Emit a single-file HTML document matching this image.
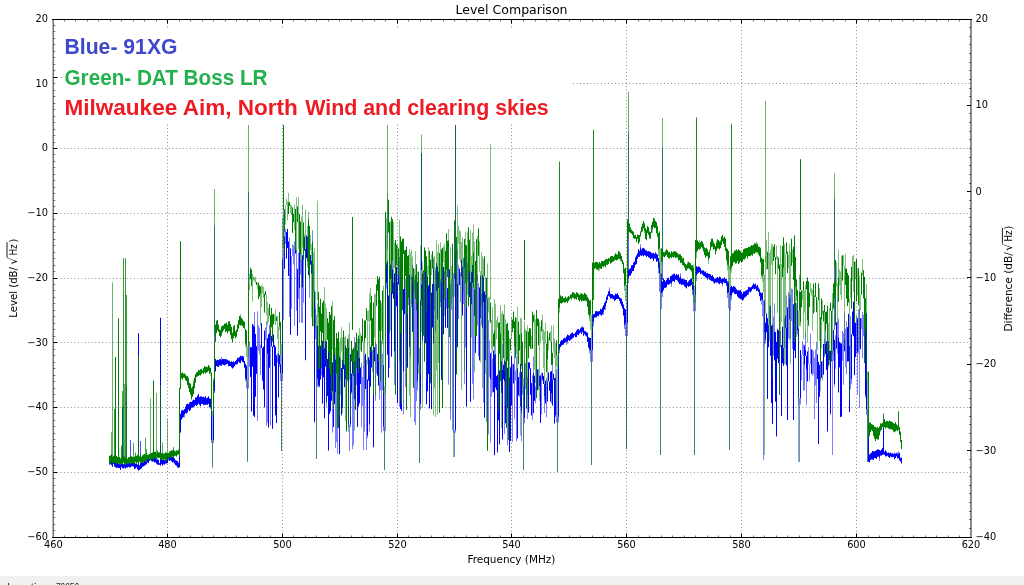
<!DOCTYPE html>
<html><head><meta charset="utf-8"><style>
html,body{margin:0;padding:0;background:#fff;width:1024px;height:585px;overflow:hidden}
svg{display:block}
.g{stroke:#000;stroke-width:1;stroke-dasharray:1 2.5;opacity:.45}
.t{font-family:"DejaVu Sans",sans-serif;font-size:9.8px;fill:#000}
.lb{font-family:"DejaVu Sans",sans-serif;font-size:9.8px;fill:#000}
.an{font-family:"Liberation Sans",sans-serif;font-weight:bold;font-size:22px}
</style></head><body>
<svg width="1024" height="585" viewBox="0 0 1024 585">
<rect width="1024" height="576" fill="#fff"/>
<rect y="576" width="1024" height="9" fill="#f0f0f0"/>
<text x="7" y="590.6" style="font-family:'Liberation Sans',sans-serif;font-size:11px;fill:#222">Location:</text><text x="55.9" y="590.6" style="font-family:'Liberation Sans',sans-serif;font-size:11px;fill:#222" textLength="23.3" lengthAdjust="spacingAndGlyphs">79656</text>
<path d="M138.5 333.2V465.0M160.5 317.8V462.0M122.5 406.7V466.0M421.5 153.4V270.0M883.5 427.6V452.0" stroke="#0000ff" stroke-width="1" stroke-opacity="1.0"/>
<path d="M126.5 385.5V465.0M130.5 440.0V466.0M140.5 441.0V466.0" stroke="#0000ff" stroke-width="1" stroke-opacity="0.7"/>
<path d="M214.5 226.0V362.0M248.5 192.0V335.0M628.5 132.0V270.0M662.5 148.0V280.0M834.5 199.0V330.0" stroke="#0000ff" stroke-width="1" stroke-opacity="0.6"/>
<path d="M283.5 125.0V240.0M387.5 215.0V250.0" stroke="#0000ff" stroke-width="1" stroke-opacity="0.5"/>
<path d="M455.5 125.0V255.0" stroke="#0000ff" stroke-width="1" stroke-opacity="0.8"/>
<path d="M109.5 461.9V464.5M110.5 460.3V464.2M111.5 459.9V465.1M112.5 461.6V466.8M113.5 461.0V463.9M114.5 461.0V466.6M115.5 462.3V467.2M116.5 462.1V468.1M117.5 461.7V467.5M118.5 463.7V468.1M119.5 460.3V468.0M120.5 464.2V470.0M121.5 463.6V467.0M122.5 464.1V468.2M123.5 464.2V468.7M124.5 463.4V467.7M125.5 461.6V468.5M126.5 463.6V467.6M127.5 463.7V467.5M128.5 463.8V466.8M129.5 462.5V467.4M130.5 462.9V467.5M131.5 462.9V466.2M132.5 462.3V466.2M133.5 462.2V466.8M134.5 463.5V469.1M135.5 463.4V468.4M136.5 463.8V467.3M137.5 464.5V469.2M138.5 464.8V470.5M139.5 465.1V470.0M140.5 463.6V469.1M141.5 461.7V468.4M142.5 461.8V466.7M143.5 462.5V466.4M144.5 460.7V465.8M145.5 459.5V464.9M146.5 459.2V464.3M147.5 457.5V462.6M148.5 457.8V463.0M149.5 457.4V461.0M150.5 456.7V460.1M151.5 455.5V461.2M152.5 456.1V461.6M153.5 456.9V461.3M154.5 456.1V462.5M155.5 458.1V462.3M156.5 458.4V463.6M157.5 459.7V464.7M158.5 459.9V464.8M159.5 463.2V464.8M160.5 459.9V465.7M161.5 459.1V464.2M162.5 459.7V465.6M163.5 459.5V464.3M164.5 459.7V464.6M165.5 458.7V463.5M166.5 458.0V463.6M167.5 456.9V463.0M168.5 458.5V460.1M169.5 455.5V460.9M170.5 456.9V460.4M171.5 456.8V461.3M172.5 456.5V462.5M173.5 457.2V462.2M174.5 458.4V463.7M175.5 460.2V465.1M176.5 460.7V465.7M177.5 461.1V467.4M178.5 462.7V467.8M179.5 416.7V467.3M180.5 413.7V432.6M181.5 410.6V419.7M182.5 409.8V418.0M183.5 410.4V417.0M184.5 409.1V414.6M185.5 406.6V413.2M186.5 404.3V413.6M187.5 403.7V412.3M188.5 404.2V409.7M189.5 402.5V411.0M190.5 401.8V410.2M191.5 401.9V407.8M192.5 400.7V407.7M193.5 399.7V406.9M194.5 399.9V406.5M195.5 397.6V404.9M196.5 397.3V406.0M197.5 395.7V404.7M198.5 394.1V403.5M199.5 397.0V404.8M200.5 396.4V406.2M201.5 396.4V403.9M202.5 397.1V403.9M203.5 396.8V405.1M204.5 397.4V404.7M205.5 396.2V405.1M206.5 398.2V404.5M207.5 397.7V404.8M208.5 396.3V403.9M209.5 398.2V407.4M210.5 398.9V407.1M211.5 407.1V440.1M213.5 390.9V440.1M214.5 371.5V390.9M215.5 358.9V371.5M216.5 360.3V366.0M217.5 359.8V366.6M218.5 360.1V367.0M219.5 359.2V365.3M220.5 359.1V365.6M221.5 360.1V365.7M222.5 358.9V364.5M223.5 359.1V364.8M224.5 359.1V365.3M225.5 359.2V364.7M226.5 359.2V364.2M227.5 359.9V363.7M228.5 360.6V366.2M229.5 360.7V366.0M230.5 362.0V366.1M231.5 361.2V367.4M232.5 362.0V368.5M233.5 361.2V367.5M234.5 362.2V366.3M235.5 361.1V364.6M236.5 359.8V364.3M237.5 357.8V364.2M238.5 358.1V361.7M239.5 357.0V362.8M240.5 355.7V363.1M241.5 356.3V360.6M242.5 355.9V361.9M243.5 356.4V362.6M244.5 360.9V367.8M245.5 363.8V378.6M246.5 365.5V380.3M250.5 347.2V376.9M251.5 347.2V411.6M252.5 323.9V366.7M253.5 325.4V415.6M254.5 326.6V416.9M255.5 334.0V396.7M256.5 346.2V373.9M261.5 323.4V348.1M262.5 348.1V380.6M263.5 346.6V389.6M264.5 330.5V407.4M267.5 338.3V353.8M268.5 334.3V427.5M269.5 333.1V367.7M271.5 335.9V346.5M272.5 346.5V428.9M273.5 334.5V347.1M274.5 345.0V366.3M275.5 346.8V415.4M276.5 355.3V423.1M278.5 353.6V397.4M279.5 355.0V364.3M280.5 364.3V373.1M282.5 259.3V373.1M284.5 236.7V268.8M286.5 231.9V258.7M287.5 229.0V248.1M288.5 241.5V275.9M290.5 248.4V334.8M295.5 243.5V253.6M297.5 268.7V335.6M299.5 246.5V288.2M302.5 255.2V287.4M304.5 236.9V250.7M305.5 249.4V360.2M306.5 235.5V258.0M307.5 236.9V261.4M308.5 248.8V275.0M310.5 255.0V264.7M311.5 260.7V273.7M312.5 241.7V321.2M314.5 291.3V421.7M317.5 325.7V378.7M318.5 345.9V385.1M319.5 352.1V386.7M320.5 345.7V379.5M322.5 340.9V403.6M323.5 342.1V377.4M324.5 348.0V418.3M325.5 340.9V366.6M326.5 341.8V402.4M327.5 359.0V396.1M328.5 340.7V450.5M329.5 343.5V413.9M330.5 358.2V411.4M331.5 348.3V400.7M332.5 362.4V391.5M333.5 343.9V427.1M334.5 347.9V404.1M335.5 359.6V392.4M339.5 356.7V454.3M341.5 368.0V415.3M342.5 360.0V407.9M343.5 346.7V369.1M344.5 364.8V387.1M345.5 346.0V379.2M346.5 354.9V418.3M347.5 362.9V379.5M348.5 347.6V424.5M350.5 354.3V424.5M351.5 373.6V392.4M352.5 356.4V373.6M353.5 350.8V375.9M354.5 361.4V399.2M355.5 357.1V409.8M357.5 350.9V426.8M358.5 354.4V406.4M359.5 357.8V403.4M360.5 367.5V384.1M365.5 354.0V389.0M367.5 379.5V435.6M368.5 357.2V380.6M369.5 359.8V424.5M370.5 346.7V386.5M371.5 346.4V367.5M373.5 347.8V447.3M374.5 347.1V361.4M377.5 354.0V375.7M378.5 354.3V385.6M383.5 365.1V426.7M386.5 263.1V283.0M387.5 261.0V354.8M388.5 295.5V377.5M390.5 264.7V278.8M391.5 258.5V356.7M392.5 269.3V293.7M393.5 282.8V298.6M394.5 273.4V351.4M395.5 286.1V330.2M396.5 266.9V306.3M397.5 282.8V403.0M398.5 270.6V284.5M400.5 283.7V409.0M401.5 272.0V410.8M403.5 289.1V371.5M404.5 280.3V314.2M407.5 288.4V367.7M409.5 274.6V346.8M412.5 276.7V331.8M416.5 273.9V295.4M417.5 282.1V380.0M420.5 300.5V403.9M421.5 284.4V300.5M422.5 273.3V340.7M424.5 296.7V321.8M425.5 270.5V343.3M426.5 273.1V404.2M427.5 276.3V391.3M428.5 285.5V374.0M429.5 274.3V408.4M430.5 271.9V369.4M431.5 292.6V409.0M432.5 284.0V327.5M433.5 268.3V343.4M436.5 263.2V290.9M437.5 266.7V319.5M438.5 271.8V287.9M441.5 274.1V379.8M442.5 270.5V405.0M443.5 267.0V334.2M445.5 273.1V327.6M447.5 288.2V327.9M448.5 264.9V303.6M449.5 269.3V317.5M455.5 254.3V430.0M456.5 256.2V324.4M457.5 283.7V347.3M459.5 268.6V285.1M461.5 259.8V276.7M462.5 266.9V315.5M464.5 251.5V267.6M466.5 262.9V406.4M468.5 263.1V306.3M469.5 268.4V297.0M470.5 282.1V401.9M471.5 272.2V304.2M472.5 264.9V282.7M474.5 289.4V315.7M475.5 261.1V352.8M479.5 287.4V360.4M480.5 275.8V318.1M482.5 275.0V328.1M483.5 277.4V302.5M484.5 291.4V417.7M485.5 294.9V360.1M487.5 302.7V336.2M490.5 353.3V379.7M493.5 350.6V392.2M494.5 354.8V455.2M495.5 354.0V387.6M496.5 376.1V390.1M497.5 374.8V452.4M498.5 372.1V420.3M499.5 370.4V444.4M501.5 361.3V392.9M502.5 369.7V439.4M503.5 364.7V379.1M504.5 360.5V381.5M505.5 361.5V423.3M506.5 358.7V416.7M507.5 367.7V407.9M508.5 354.9V423.4M509.5 377.6V452.0M510.5 367.4V440.9M511.5 356.1V405.6M513.5 364.3V383.5M517.5 368.1V438.5M518.5 377.1V395.5M520.5 363.9V406.7M521.5 371.9V411.6M524.5 363.8V418.0M526.5 371.6V404.7M528.5 362.4V412.6M529.5 362.3V368.6M530.5 368.2V394.8M531.5 383.0V415.4M533.5 373.1V413.1M534.5 375.8V400.9M536.5 370.8V389.9M537.5 369.4V390.4M539.5 376.1V385.9M540.5 375.4V422.9M542.5 373.1V380.3M543.5 375.9V384.0M544.5 384.0V396.0M545.5 380.6V403.6M547.5 381.4V401.6M548.5 372.4V381.4M549.5 381.4V390.9M550.5 371.6V401.6M551.5 371.1V393.5M552.5 379.6V405.6M553.5 373.7V379.8M554.5 378.1V423.6M555.5 377.6V415.3M558.5 345.6V416.8M559.5 344.0V349.7M560.5 341.3V347.1M561.5 340.2V345.8M562.5 339.9V344.8M563.5 338.6V344.7M564.5 337.7V342.9M565.5 338.2V342.2M566.5 336.5V341.6M567.5 334.6V341.7M568.5 335.3V340.2M569.5 335.4V340.9M570.5 334.0V340.2M571.5 333.2V339.2M572.5 332.3V338.4M573.5 333.9V337.6M574.5 333.7V335.5M575.5 332.3V337.2M576.5 330.5V337.1M577.5 329.3V334.8M578.5 328.9V335.2M579.5 330.2V333.5M580.5 328.4V332.4M581.5 327.1V334.1M582.5 327.7V332.1M583.5 327.4V335.8M584.5 330.9V334.3M585.5 331.4V335.6M586.5 332.2V336.7M587.5 332.7V341.9M588.5 337.1V347.5M589.5 337.8V349.9M590.5 338.0V350.2M592.5 312.5V350.2M593.5 314.3V322.2M594.5 313.8V317.7M595.5 311.2V317.3M596.5 311.0V317.3M597.5 311.5V315.8M598.5 311.4V316.3M599.5 311.0V314.4M600.5 308.8V314.8M601.5 309.3V315.7M602.5 307.3V314.4M603.5 305.3V312.5M604.5 303.0V309.6M605.5 301.2V306.6M606.5 296.8V303.2M607.5 294.5V299.8M608.5 291.4V296.1M609.5 290.4V296.8M610.5 293.8V298.6M611.5 294.0V298.3M612.5 294.1V298.8M613.5 295.4V299.1M614.5 295.2V301.0M615.5 293.6V300.0M616.5 294.1V299.1M617.5 293.2V299.0M618.5 295.2V298.9M619.5 297.1V300.9M620.5 298.1V303.6M621.5 298.7V306.1M622.5 301.6V308.6M623.5 304.5V315.6M624.5 308.2V325.3M625.5 309.3V323.5M627.5 269.6V323.5M628.5 269.5V278.3M629.5 269.0V275.8M630.5 268.2V275.5M631.5 265.5V273.5M632.5 265.1V271.2M633.5 262.6V271.1M634.5 261.5V267.7M635.5 257.4V264.9M636.5 255.4V263.9M637.5 253.3V259.0M638.5 249.1V256.8M639.5 250.8V256.8M640.5 247.3V255.3M641.5 249.6V256.0M642.5 248.1V255.3M643.5 247.9V256.2M644.5 248.8V255.3M645.5 250.3V255.6M646.5 250.4V257.0M647.5 251.4V256.0M648.5 251.2V257.4M649.5 251.4V257.8M650.5 251.8V259.2M651.5 253.0V258.3M652.5 253.3V258.7M653.5 252.8V261.0M654.5 254.0V258.5M655.5 252.4V258.8M656.5 253.8V261.9M657.5 254.6V261.2M658.5 257.9V267.8M659.5 262.3V273.6M661.5 273.6V293.0M662.5 281.4V292.3M663.5 278.3V290.3M664.5 280.0V287.9M665.5 281.4V288.2M666.5 279.8V287.2M667.5 278.3V284.5M668.5 277.7V284.8M669.5 279.8V284.4M670.5 276.3V283.2M671.5 275.6V283.8M672.5 274.7V281.4M673.5 273.8V281.1M674.5 273.6V281.9M675.5 275.3V279.6M676.5 273.9V280.0M677.5 275.1V280.7M678.5 274.3V282.5M679.5 277.4V284.1M680.5 276.3V283.9M681.5 278.8V285.1M682.5 278.5V284.5M683.5 279.2V284.7M684.5 279.4V286.4M685.5 279.8V287.3M686.5 280.1V288.4M687.5 282.4V285.9M688.5 281.3V287.0M689.5 280.0V286.0M690.5 279.1V286.2M691.5 278.6V284.7M692.5 282.1V290.0M693.5 283.8V295.2M695.5 266.1V295.2M696.5 266.1V275.6M697.5 267.0V273.8M698.5 266.5V272.9M699.5 266.8V272.2M700.5 268.0V274.2M701.5 270.4V273.4M702.5 270.6V274.7M703.5 270.3V275.7M704.5 271.7V276.1M705.5 271.4V277.2M706.5 273.2V278.0M707.5 272.8V279.5M708.5 273.9V277.6M709.5 273.9V279.6M710.5 274.4V280.1M711.5 276.0V281.0M712.5 275.1V281.0M713.5 277.0V282.4M714.5 278.7V283.6M715.5 278.7V282.5M716.5 277.8V282.7M717.5 277.0V282.3M718.5 277.9V283.4M719.5 276.6V284.2M720.5 277.2V282.7M721.5 279.1V283.5M722.5 278.4V284.3M723.5 278.5V282.2M724.5 277.4V283.1M725.5 279.2V283.1M726.5 279.0V285.7M727.5 281.4V293.3M728.5 281.7V292.6M730.5 287.1V295.5M731.5 285.8V295.7M732.5 287.0V292.9M733.5 286.2V292.1M734.5 286.5V293.8M735.5 287.5V294.2M736.5 289.1V294.0M737.5 290.5V296.5M738.5 290.2V297.7M739.5 290.3V298.3M740.5 290.1V299.1M741.5 291.7V299.2M742.5 293.8V300.6M743.5 291.6V299.7M744.5 291.5V297.9M745.5 290.8V296.7M746.5 290.1V296.4M747.5 289.6V294.9M748.5 286.9V293.7M749.5 287.1V291.5M750.5 287.5V292.5M751.5 286.7V290.9M752.5 285.2V289.1M753.5 283.4V288.6M754.5 284.4V289.5M755.5 283.8V288.8M756.5 286.0V291.0M757.5 284.9V290.7M758.5 287.4V291.9M759.5 289.3V296.2M760.5 292.2V300.9M761.5 293.2V299.6M762.5 292.5V300.3M764.5 300.3V332.0M765.5 322.5V339.8M766.5 313.4V332.3M767.5 318.1V398.9M768.5 325.2V347.1M770.5 306.0V355.6M771.5 325.6V403.1M772.5 324.7V423.9M774.5 331.3V360.4M775.5 332.1V401.7M776.5 341.9V436.4M777.5 329.1V358.6M778.5 330.4V363.1M781.5 345.0V416.1M782.5 326.7V363.3M783.5 348.2V365.8M785.5 315.5V328.2M786.5 328.2V365.6M787.5 307.4V420.0M789.5 298.5V319.3M793.5 304.2V420.0M794.5 308.5V350.5M795.5 302.9V358.0M797.5 302.0V330.5M798.5 328.7V398.1M800.5 350.1V398.1M804.5 345.3V364.7M805.5 350.0V356.0M806.5 356.0V369.6M807.5 351.5V381.4M811.5 349.5V373.8M817.5 354.3V378.9M818.5 362.0V444.0M819.5 364.9V396.7M821.5 361.6V377.9M823.5 344.0V374.8M825.5 344.0V354.1M826.5 341.3V369.9M827.5 345.0V431.5M828.5 341.3V365.1M829.5 351.0V360.1M830.5 350.7V413.6M831.5 341.1V350.7M833.5 330.1V350.7M834.5 340.0V384.3M836.5 322.3V348.6M838.5 337.3V392.5M839.5 341.9V367.4M840.5 343.0V417.0M841.5 343.7V416.6M844.5 338.7V351.3M847.5 327.1V361.6M848.5 314.0V361.3M849.5 345.8V412.1M851.5 334.3V379.1M852.5 311.6V334.3M853.5 301.7V336.3M854.5 313.4V375.1M855.5 322.7V357.1M857.5 318.2V351.9M860.5 318.2V349.2M865.5 327.9V395.7M866.5 313.4V409.7M868.5 409.7V461.9M869.5 454.5V462.3M870.5 453.4V460.0M871.5 452.7V459.3M872.5 451.1V459.5M873.5 451.3V459.9M874.5 451.2V458.0M875.5 451.0V458.1M876.5 450.0V458.9M877.5 449.5V456.8M878.5 449.4V456.6M879.5 450.0V457.7M880.5 450.7V455.6M881.5 449.7V455.6M882.5 447.8V454.7M883.5 450.6V454.6M884.5 451.7V454.9M885.5 450.3V456.2M886.5 451.7V456.5M887.5 453.1V455.7M888.5 452.4V456.9M889.5 453.1V458.0M890.5 452.6V456.5M891.5 453.5V457.2M892.5 453.2V457.2M893.5 454.2V456.8M894.5 452.7V459.3M895.5 453.7V458.1M896.5 452.9V456.4M897.5 454.1V458.4M898.5 453.9V458.2M899.5 452.7V460.3M900.5 457.7V461.5M901.5 457.6V463.4" stroke="#0000ff" stroke-width="1"/>
<path d="M109.5 458.8V461.9M141.5 460.2V461.7M143.5 459.4V462.5M157.5 458.4V459.7M184.5 414.6V417.6M212.5 440.1V468.0M221.5 357.0V360.1M247.5 380.3V462.0M248.5 344.7V380.3M249.5 341.5V363.9M254.5 312.0V326.6M257.5 331.2V421.0M257.5 311.4V331.2M258.5 325.6V350.6M259.5 327.7V354.5M260.5 344.8V375.3M265.5 327.5V340.2M266.5 337.9V425.8M266.5 321.3V337.9M267.5 353.8V422.4M269.5 324.6V333.1M270.5 330.7V417.3M270.5 417.3V425.3M277.5 353.3V362.5M280.5 344.2V364.6M281.5 373.1V451.0M283.5 234.9V315.8M285.5 228.7V244.0M289.5 237.4V272.7M289.5 272.7V316.9M291.5 256.0V308.9M292.5 244.1V256.0M293.5 245.4V264.5M294.5 241.3V312.2M294.5 312.2V325.9M296.5 249.8V310.7M298.5 252.8V298.9M299.5 288.2V322.8M300.5 246.9V274.7M301.5 259.5V322.7M301.5 322.7V322.7M302.5 287.4V322.9M303.5 248.4V302.7M305.5 360.2V360.2M309.5 261.0V297.8M312.5 230.3V241.7M313.5 263.6V291.3M315.5 308.5V325.7M316.5 325.7V459.0M321.5 357.9V375.4M332.5 391.5V432.5M335.5 392.4V448.1M336.5 357.4V426.0M336.5 426.0V442.2M337.5 350.2V453.6M338.5 343.2V383.5M340.5 358.2V379.6M348.5 339.8V347.6M349.5 424.5V451.0M352.5 369.5V449.2M353.5 375.9V445.4M354.5 337.0V361.4M356.5 367.3V385.0M359.5 339.0V357.8M361.5 362.6V388.0M361.5 388.0V427.2M362.5 376.9V406.0M363.5 366.0V450.0M364.5 355.9V431.7M366.5 359.5V450.0M367.5 435.6V438.1M369.5 424.5V431.7M372.5 349.7V372.2M375.5 342.6V400.8M376.5 344.3V373.6M379.5 382.4V399.5M380.5 346.5V390.2M381.5 340.4V432.7M382.5 353.6V388.0M384.5 426.7V470.0M385.5 253.3V426.7M387.5 354.8V354.8M389.5 260.9V368.1M391.5 241.8V258.5M392.5 251.4V269.3M394.5 351.4V385.1M399.5 284.5V407.0M399.5 257.1V290.3M400.5 409.0V409.0M402.5 268.3V301.5M403.5 371.5V414.1M405.5 278.4V386.8M406.5 270.8V299.6M408.5 288.2V305.1M410.5 307.6V356.4M411.5 275.6V307.6M412.5 264.7V276.7M413.5 274.5V314.4M414.5 280.0V318.7M414.5 318.7V422.0M415.5 294.3V425.0M416.5 295.4V401.0M417.5 380.0V390.6M418.5 288.7V347.8M419.5 347.8V463.0M421.5 265.7V284.4M423.5 280.6V299.1M424.5 264.5V296.7M429.5 408.4V408.4M431.5 409.0V409.0M433.5 259.1V268.3M434.5 284.7V310.5M435.5 270.1V331.7M439.5 274.9V391.0M439.5 391.0V391.0M440.5 279.3V302.5M444.5 271.5V300.0M446.5 270.6V308.3M448.5 303.6V384.7M450.5 284.1V419.7M451.5 279.3V309.8M452.5 271.3V429.1M453.5 272.8V430.0M454.5 430.0V457.0M457.5 249.7V283.7M458.5 264.6V319.2M460.5 272.3V302.3M463.5 258.5V304.1M464.5 267.6V384.3M465.5 267.6V347.5M465.5 244.9V278.1M467.5 262.7V280.8M472.5 282.7V383.7M473.5 270.9V399.4M473.5 399.4V399.4M476.5 258.9V300.3M477.5 274.5V325.6M478.5 283.0V356.2M481.5 293.6V325.5M483.5 302.5V402.6M486.5 293.0V318.0M486.5 318.0V421.9M487.5 336.2V444.7M488.5 320.2V434.5M489.5 340.4V377.0M490.5 379.7V442.5M491.5 351.6V396.8M492.5 358.8V392.6M494.5 342.1V354.8M500.5 365.5V381.5M502.5 343.7V369.7M504.5 381.5V434.0M507.5 407.9V445.4M508.5 349.8V354.9M512.5 363.5V376.0M512.5 376.0V441.9M514.5 364.3V418.7M514.5 346.2V364.3M515.5 370.5V380.5M516.5 356.6V384.7M516.5 384.7V441.3M519.5 372.2V397.2M521.5 411.6V441.3M522.5 363.8V386.2M523.5 386.2V470.0M524.5 418.0V418.0M525.5 362.8V386.1M527.5 377.1V419.0M532.5 375.3V420.0M532.5 420.0V420.0M533.5 356.3V373.1M535.5 386.4V403.3M538.5 369.2V389.6M541.5 372.4V386.2M541.5 386.2V414.6M544.5 396.0V413.0M546.5 377.7V417.3M551.5 393.5V403.6M552.5 361.2V379.6M556.5 369.0V416.8M557.5 416.8V472.0M566.5 341.6V344.9M567.5 341.7V343.7M582.5 325.8V327.7M591.5 350.2V465.0M603.5 312.5V314.8M605.5 306.6V310.0M609.5 287.3V290.4M626.5 323.5V449.0M640.5 244.2V247.3M660.5 273.6V455.0M671.5 283.8V286.9M680.5 273.1V276.3M694.5 295.2V455.0M722.5 284.3V286.6M729.5 292.6V450.0M730.5 295.5V297.4M748.5 293.7V294.9M763.5 300.3V460.0M764.5 304.9V315.3M769.5 305.7V325.2M773.5 316.7V355.7M774.5 303.5V331.3M779.5 333.6V367.6M780.5 331.1V347.3M784.5 318.5V348.2M786.5 295.4V340.2M788.5 301.2V338.3M788.5 291.8V301.2M789.5 293.8V298.5M790.5 295.2V338.3M791.5 294.7V321.0M791.5 288.6V294.7M792.5 304.8V349.0M792.5 288.9V304.8M796.5 303.1V337.0M799.5 398.1V462.0M801.5 355.0V377.8M802.5 341.2V355.0M803.5 344.3V390.8M804.5 364.7V390.2M805.5 332.8V350.0M806.5 369.6V404.9M808.5 347.3V364.1M809.5 364.1V381.4M810.5 356.3V364.3M810.5 333.4V356.3M812.5 349.4V375.7M813.5 351.0V374.2M814.5 357.8V419.1M815.5 349.4V385.4M816.5 342.5V402.9M820.5 355.9V381.2M822.5 361.0V380.3M824.5 338.8V357.0M825.5 329.3V344.0M832.5 350.7V455.0M835.5 335.2V368.9M837.5 321.6V353.6M838.5 318.7V337.3M842.5 331.1V360.8M843.5 333.0V384.8M844.5 313.3V338.7M845.5 328.6V367.3M846.5 321.3V374.4M850.5 316.1V389.2M851.5 379.1V384.2M856.5 315.4V353.8M857.5 351.9V394.4M858.5 309.4V353.6M859.5 309.1V407.7M861.5 318.0V329.3M862.5 312.2V358.2M863.5 314.7V336.1M864.5 323.1V338.3M867.5 409.7V462.0M879.5 457.7V461.0M883.5 447.7V450.6M897.5 452.2V454.1M898.5 451.6V453.9M211.5 440.1V442.9M213.5 440.1V442.9M210.5 407.1V408.9M214.5 390.9V393.2M246.5 380.3V388.5M248.5 380.3V388.5M245.5 378.6V381.1M249.5 363.9V366.9M280.5 373.1V380.9M282.5 373.1V380.9M279.5 364.3V366.9M283.5 315.8V319.8M315.5 325.7V339.1M317.5 378.7V386.8M314.5 421.7V422.8M318.5 385.1V387.3M348.5 424.5V427.1M350.5 424.5V427.1M347.5 379.5V381.6M351.5 392.4V394.1M383.5 426.7V431.0M385.5 426.7V431.0M382.5 388.0V390.4M386.5 283.0V288.6M418.5 347.8V359.4M420.5 403.9V409.8M417.5 380.0V382.5M421.5 300.5V305.4M453.5 430.0V432.7M455.5 430.0V432.7M452.5 429.1V429.9M456.5 324.4V328.4M522.5 386.2V394.6M524.5 418.0V423.2M521.5 411.6V413.4M525.5 386.1V388.7M556.5 416.8V422.3M558.5 416.8V422.3M555.5 415.3V417.0M559.5 349.7V353.3M590.5 350.2V361.7M592.5 350.2V361.7M589.5 349.9V353.4M593.5 322.2V326.5M625.5 323.5V336.1M627.5 323.5V336.1M624.5 325.3V329.0M628.5 278.3V283.4M659.5 273.6V291.8M661.5 293.0V309.2M658.5 267.8V273.4M662.5 292.3V297.2M693.5 295.2V311.2M695.5 295.2V311.2M692.5 290.0V295.0M696.5 275.6V281.0M728.5 292.6V308.3M730.5 295.5V310.9M727.5 293.3V298.0M731.5 295.7V300.3M762.5 300.3V316.3M764.5 332.0V344.8M761.5 299.6V304.5M765.5 339.8V343.4M798.5 398.1V404.5M800.5 398.1V404.5M797.5 330.5V334.5M801.5 377.8V380.3M831.5 350.7V361.1M833.5 350.7V361.1M830.5 413.6V414.9M834.5 384.3V386.4M866.5 409.7V414.9M868.5 461.9V461.9M865.5 395.7V397.7" stroke="#0000ff" stroke-width="1" stroke-opacity=".5"/>
<path d="M109.5 456.0V464.2M110.5 455.2V463.9M111.5 454.5V461.9M112.5 457.0V463.3M113.5 455.7V462.9M114.5 455.8V462.4M115.5 456.2V463.0M116.5 455.8V463.6M117.5 457.0V463.5M118.5 456.0V463.6M119.5 456.9V464.6M120.5 458.4V464.1M121.5 456.8V463.6M122.5 457.5V463.7M123.5 457.2V462.8M124.5 456.2V464.7M125.5 457.3V465.0M126.5 458.4V463.2M127.5 458.6V464.1M128.5 457.3V464.1M129.5 457.1V462.6M130.5 456.3V464.0M131.5 456.2V463.4M132.5 456.9V463.4M133.5 457.5V463.1M134.5 456.6V463.9M135.5 456.1V462.0M136.5 455.9V463.8M137.5 454.9V462.3M138.5 453.7V462.0M139.5 456.4V461.6M140.5 454.3V462.2M141.5 456.7V462.8M142.5 455.4V463.0M143.5 454.5V462.5M144.5 454.0V460.8M145.5 455.2V461.3M146.5 453.1V460.1M147.5 454.7V459.1M148.5 454.7V459.2M149.5 454.0V459.8M150.5 453.5V459.9M151.5 453.0V459.4M152.5 452.4V458.8M153.5 452.3V457.6M154.5 452.0V458.2M155.5 451.6V458.3M156.5 453.0V457.7M157.5 451.3V457.5M158.5 452.5V458.1M159.5 452.3V457.8M160.5 454.3V458.7M161.5 453.2V460.2M162.5 452.4V458.9M163.5 453.6V459.7M164.5 453.5V459.1M165.5 452.3V461.5M166.5 452.5V460.2M167.5 453.6V457.8M168.5 453.0V460.3M169.5 451.5V457.2M170.5 450.9V457.8M171.5 450.4V457.1M172.5 450.3V456.0M173.5 449.6V457.8M174.5 450.6V456.1M175.5 451.4V455.7M176.5 450.3V456.7M177.5 450.7V455.0M178.5 449.6V454.2M179.5 387.9V456.3M180.5 374.6V389.0M181.5 373.1V378.4M182.5 372.5V379.5M183.5 373.7V377.7M184.5 373.4V377.9M185.5 374.4V380.3M186.5 376.3V381.0M187.5 375.8V385.0M188.5 378.0V388.0M189.5 382.8V392.1M190.5 383.7V394.6M191.5 387.8V399.4M192.5 386.5V396.8M193.5 383.2V394.4M194.5 377.7V388.2M195.5 374.1V382.7M196.5 372.4V377.2M197.5 371.7V376.4M198.5 370.2V376.0M199.5 370.2V375.1M200.5 369.2V375.5M201.5 368.8V374.1M202.5 370.4V372.9M203.5 368.0V374.0M204.5 366.2V372.4M205.5 366.9V373.5M206.5 366.6V372.6M207.5 367.1V372.0M208.5 365.0V370.9M209.5 366.4V373.9M210.5 368.0V372.6M211.5 372.6V410.9M213.5 379.5V410.9M214.5 341.9V379.5M215.5 324.6V341.9M216.5 320.7V333.1M217.5 320.1V330.5M218.5 324.5V331.8M219.5 329.5V335.9M220.5 329.8V337.1M221.5 326.5V335.6M222.5 325.6V332.3M223.5 325.4V330.4M224.5 323.7V328.9M225.5 323.4V332.0M226.5 322.7V331.2M227.5 324.7V333.4M228.5 321.4V331.5M229.5 321.2V331.2M230.5 324.0V335.2M231.5 326.8V339.2M232.5 332.7V342.3M233.5 326.4V338.0M234.5 325.1V336.1M235.5 331.5V338.5M236.5 329.5V336.8M237.5 324.4V331.9M238.5 319.9V328.6M239.5 315.9V324.9M240.5 316.3V325.6M241.5 317.8V325.2M242.5 319.3V326.3M243.5 320.8V327.8M244.5 321.9V328.9M245.5 328.9V343.8M246.5 330.3V345.5M248.5 284.6V345.5M250.5 267.7V279.2M251.5 269.5V286.2M256.5 281.9V285.1M258.5 282.5V299.0M259.5 285.4V296.7M260.5 286.6V293.9M264.5 293.6V312.6M265.5 291.1V294.8M269.5 304.1V315.8M270.5 315.3V340.2M271.5 307.9V327.3M272.5 314.3V341.9M273.5 313.6V324.4M276.5 316.6V321.1M279.5 311.9V326.5M280.5 321.9V343.9M284.5 209.3V232.5M288.5 202.3V214.0M289.5 202.1V205.9M292.5 207.3V232.9M293.5 213.7V222.4M295.5 208.9V250.3M297.5 206.5V222.0M299.5 214.1V252.8M300.5 221.6V254.4M303.5 222.4V259.5M308.5 218.6V270.8M309.5 225.8V277.7M312.5 241.5V326.2M318.5 291.7V312.2M319.5 306.7V368.9M320.5 298.7V331.5M321.5 313.5V368.2M322.5 302.9V333.2M323.5 300.7V349.9M327.5 318.1V339.8M328.5 322.6V352.3M329.5 312.0V368.5M330.5 314.8V374.2M331.5 306.1V393.7M333.5 320.2V409.1M334.5 316.2V354.5M336.5 333.0V373.5M337.5 338.3V427.2M338.5 331.8V428.2M343.5 330.4V364.1M346.5 348.0V431.4M347.5 338.6V379.1M351.5 341.0V361.5M352.5 349.6V362.2M353.5 347.9V374.8M355.5 342.3V373.7M356.5 332.8V368.2M358.5 335.4V372.8M361.5 335.8V352.0M362.5 318.6V341.7M364.5 320.5V341.7M365.5 320.3V338.2M366.5 308.3V320.3M370.5 302.6V320.7M371.5 295.8V351.7M372.5 317.9V346.0M373.5 302.5V394.6M376.5 284.3V306.2M377.5 276.0V290.7M378.5 279.1V361.1M379.5 276.8V330.9M380.5 300.1V381.5M382.5 290.4V340.1M385.5 211.9V385.9M388.5 199.8V232.6M389.5 222.1V333.5M391.5 216.8V292.0M392.5 219.1V260.7M395.5 239.9V394.6M396.5 244.6V265.5M398.5 248.4V275.5M400.5 236.3V333.0M401.5 241.4V404.2M402.5 238.7V310.2M403.5 238.7V254.0M404.5 250.4V288.9M405.5 250.0V275.9M406.5 246.5V409.8M407.5 256.1V314.4M408.5 255.1V297.7M413.5 268.1V387.9M415.5 274.8V298.9M416.5 264.2V310.7M418.5 271.7V363.9M423.5 270.3V335.8M424.5 247.4V361.6M425.5 250.4V271.6M426.5 256.3V311.2M429.5 251.1V283.7M430.5 259.6V383.3M432.5 251.1V268.7M439.5 253.0V412.8M441.5 249.3V282.6M442.5 247.8V408.0M445.5 250.7V298.9M446.5 233.3V270.4M447.5 240.7V277.2M448.5 240.2V308.0M449.5 277.2V337.2M452.5 243.8V278.9M454.5 220.4V278.9M456.5 236.9V374.5M464.5 238.9V257.8M465.5 244.6V283.2M466.5 245.3V306.9M468.5 227.4V305.7M469.5 239.7V271.6M473.5 252.2V287.8M475.5 261.3V336.0M476.5 239.2V336.0M478.5 228.4V255.8M484.5 256.3V276.4M486.5 277.8V298.9M487.5 298.9V450.8M490.5 302.5V322.8M493.5 333.5V346.4M494.5 331.1V346.3M498.5 322.6V411.0M499.5 322.3V353.9M500.5 333.6V380.1M503.5 314.4V358.3M506.5 324.1V427.9M507.5 322.7V360.8M508.5 330.2V440.0M510.5 339.0V350.6M512.5 319.5V332.1M513.5 311.6V328.2M514.5 321.1V346.5M515.5 317.4V357.8M518.5 321.7V364.1M519.5 334.4V350.6M521.5 332.8V366.1M522.5 341.7V378.3M526.5 331.2V408.7M528.5 331.5V358.3M529.5 328.1V346.3M530.5 328.5V348.7M532.5 311.6V348.8M533.5 314.9V322.3M536.5 310.0V398.1M537.5 318.5V326.2M538.5 318.9V345.4M541.5 320.3V331.6M546.5 343.6V371.9M547.5 331.2V359.5M549.5 332.9V340.5M551.5 341.6V365.1M552.5 352.8V364.4M556.5 340.2V355.3M558.5 298.9V355.3M559.5 297.7V307.7M560.5 295.3V303.1M561.5 296.5V303.6M562.5 296.2V302.7M563.5 298.1V302.2M564.5 298.0V302.7M565.5 296.7V302.3M566.5 298.3V301.5M567.5 297.3V303.1M568.5 295.9V301.0M569.5 296.8V299.5M570.5 294.5V298.4M571.5 294.3V299.5M572.5 292.1V297.6M573.5 292.3V297.9M574.5 293.1V299.3M575.5 294.2V298.7M576.5 292.2V299.5M577.5 292.7V297.3M578.5 293.7V300.0M579.5 294.9V301.5M580.5 293.6V299.8M581.5 293.4V301.4M582.5 294.1V300.7M583.5 294.7V301.0M584.5 292.8V300.7M585.5 293.8V300.6M586.5 294.7V301.3M587.5 296.8V306.8M588.5 298.4V314.7M589.5 300.5V316.7M590.5 300.2V314.5M592.5 262.5V314.5M593.5 261.7V275.2M594.5 263.0V269.1M595.5 262.0V267.9M596.5 261.8V269.6M597.5 262.2V269.6M598.5 263.4V269.1M599.5 261.9V268.0M600.5 263.3V268.5M601.5 260.9V269.0M602.5 261.1V266.5M603.5 261.1V267.2M604.5 260.4V265.8M605.5 259.2V267.3M606.5 258.9V264.8M607.5 259.2V264.9M608.5 258.0V264.2M609.5 258.4V261.6M610.5 256.4V263.7M611.5 256.0V262.9M612.5 256.0V261.9M613.5 256.8V261.5M614.5 255.2V260.5M615.5 253.3V259.8M616.5 254.4V260.3M617.5 254.3V260.2M618.5 251.0V258.6M619.5 251.7V259.2M620.5 253.3V259.5M621.5 256.0V261.5M622.5 259.9V264.3M623.5 262.3V273.4M624.5 268.6V286.1M625.5 267.6V284.7M627.5 219.3V284.7M628.5 221.0V232.6M629.5 223.5V232.2M630.5 227.3V233.0M631.5 229.7V233.6M632.5 230.9V235.0M633.5 231.7V238.0M634.5 235.1V239.0M635.5 234.9V238.6M636.5 237.0V242.3M637.5 234.6V239.1M638.5 234.9V244.0M639.5 235.2V242.2M640.5 231.4V236.5M641.5 226.7V232.3M642.5 223.7V231.4M643.5 221.2V228.4M644.5 223.4V231.1M645.5 228.1V239.0M646.5 229.7V240.2M647.5 226.1V233.0M648.5 227.2V234.8M649.5 231.4V238.5M650.5 232.1V238.6M651.5 224.9V232.9M652.5 221.8V229.5M653.5 217.8V226.9M654.5 218.7V228.1M655.5 221.1V227.9M656.5 222.3V233.2M657.5 226.1V236.6M658.5 233.0V249.9M659.5 231.3V248.4M661.5 248.4V262.0M662.5 247.2V259.5M663.5 252.0V256.5M664.5 252.3V257.3M665.5 250.6V256.0M666.5 249.4V254.9M667.5 250.2V257.1M668.5 251.9V258.3M669.5 251.9V258.6M670.5 253.5V257.3M671.5 251.2V258.0M672.5 252.4V256.9M673.5 251.3V257.7M674.5 251.4V256.8M675.5 251.2V258.2M676.5 252.1V257.5M677.5 253.1V257.5M678.5 254.5V260.5M679.5 254.1V260.1M680.5 254.4V263.1M681.5 256.0V262.6M682.5 258.4V265.0M683.5 257.6V265.4M684.5 262.4V267.5M685.5 264.0V270.4M686.5 264.7V270.8M687.5 263.6V268.8M688.5 261.7V268.2M689.5 262.6V269.1M690.5 263.2V270.1M691.5 265.4V271.4M692.5 265.2V279.3M693.5 267.7V285.6M695.5 240.1V285.6M696.5 240.3V252.5M697.5 240.5V250.9M698.5 241.9V249.1M699.5 242.9V249.7M700.5 242.3V248.6M701.5 240.9V247.0M702.5 241.7V248.4M703.5 244.1V251.7M704.5 247.4V255.0M705.5 248.3V257.5M706.5 247.8V256.3M707.5 249.3V256.4M708.5 252.2V260.4M709.5 250.3V258.1M710.5 241.8V250.6M711.5 238.7V247.0M712.5 238.6V246.6M713.5 243.2V249.4M714.5 244.0V249.3M715.5 246.2V254.3M716.5 242.5V250.9M717.5 239.4V248.6M718.5 240.1V248.4M719.5 241.5V249.6M720.5 241.3V248.2M721.5 236.4V245.0M722.5 235.0V241.7M723.5 237.9V244.0M724.5 236.7V246.8M725.5 238.5V251.1M726.5 247.7V259.9M727.5 249.0V264.9M728.5 250.8V265.5M730.5 256.4V270.1M731.5 255.0V267.8M732.5 253.4V266.0M733.5 252.8V262.4M734.5 250.6V262.1M735.5 250.4V263.6M736.5 249.3V263.3M737.5 250.8V261.3M738.5 249.1V264.0M739.5 250.3V262.8M740.5 251.1V261.0M741.5 252.7V262.4M742.5 252.4V261.7M743.5 249.4V259.4M744.5 248.6V259.7M745.5 248.3V258.1M746.5 248.0V256.3M747.5 248.0V258.5M748.5 246.8V256.0M749.5 247.0V256.3M750.5 246.3V256.0M751.5 245.2V255.0M752.5 245.4V255.7M753.5 244.9V253.5M754.5 243.4V253.9M755.5 243.4V252.6M756.5 244.3V252.4M757.5 243.7V252.1M758.5 246.5V254.6M759.5 247.0V256.4M760.5 247.7V262.4M761.5 257.6V275.3M762.5 258.8V276.3M763.5 259.1V274.5M767.5 251.7V269.0M773.5 246.7V261.0M774.5 244.2V257.0M775.5 257.0V274.2M778.5 257.4V269.1M779.5 264.6V395.0M782.5 245.9V277.2M783.5 237.5V267.9M786.5 242.5V253.7M787.5 251.7V273.1M791.5 238.6V265.9M793.5 246.8V279.9M794.5 235.3V342.5M795.5 256.9V286.8M796.5 279.4V296.1M797.5 290.1V310.9M799.5 291.4V310.9M800.5 291.7V322.2M801.5 290.2V307.4M803.5 281.4V290.5M806.5 281.0V289.4M807.5 277.4V320.5M808.5 281.5V325.7M809.5 292.7V307.1M813.5 283.7V313.6M815.5 282.8V297.0M816.5 297.0V312.2M818.5 283.4V300.5M820.5 317.1V361.7M821.5 298.5V319.4M823.5 310.8V321.5M824.5 304.9V312.0M825.5 312.0V330.9M826.5 311.6V323.9M827.5 305.8V353.8M830.5 302.8V311.0M831.5 311.0V361.5M833.5 283.6V308.7M834.5 281.1V298.3M835.5 260.0V325.4M838.5 277.5V301.9M842.5 255.4V280.7M845.5 268.9V285.0M846.5 268.6V298.8M847.5 272.8V306.0M848.5 275.3V302.6M851.5 266.7V308.5M854.5 261.8V323.0M856.5 259.0V301.6M858.5 268.1V305.2M861.5 272.6V294.7M863.5 270.2V298.3M864.5 276.9V363.1M865.5 298.0V329.0M868.5 371.6V436.1M869.5 422.4V435.7M870.5 422.9V432.1M871.5 424.2V430.2M872.5 424.6V431.2M873.5 425.1V435.9M874.5 426.7V438.6M875.5 426.7V441.1M876.5 427.8V438.8M877.5 426.9V439.5M878.5 428.0V439.4M879.5 426.4V435.4M880.5 423.3V431.3M881.5 423.8V429.8M882.5 422.9V427.2M883.5 422.3V427.7M884.5 419.2V427.3M885.5 421.7V428.5M886.5 420.9V427.3M887.5 421.1V427.7M888.5 421.5V428.5M889.5 420.6V429.2M890.5 421.4V429.2M891.5 421.6V429.4M892.5 422.3V429.8M893.5 423.1V431.6M894.5 423.9V432.3M895.5 422.1V431.3M896.5 424.4V430.2M897.5 425.5V431.2M898.5 424.2V429.8M899.5 427.2V434.9M900.5 431.6V441.9M901.5 440.0V449.2" stroke="#008000" stroke-width="1"/>
<path d="M115.5 463.0V466.3M138.5 462.0V465.0M157.5 449.9V451.3M166.5 460.2V461.3M193.5 379.8V383.2M212.5 410.9V466.0M213.5 378.3V379.5M240.5 314.0V316.3M247.5 345.5V461.0M249.5 273.7V284.6M252.5 274.0V301.7M253.5 276.2V280.7M254.5 277.4V281.5M255.5 276.9V282.9M257.5 282.8V289.6M260.5 293.9V325.6M261.5 285.7V306.9M262.5 285.3V293.5M263.5 287.0V298.2M266.5 294.8V315.1M267.5 302.0V325.4M268.5 307.7V322.7M274.5 314.7V321.4M275.5 309.6V325.0M277.5 315.8V338.9M278.5 326.5V335.9M278.5 335.9V358.4M281.5 343.9V451.0M282.5 217.9V343.9M283.5 213.5V241.9M283.5 241.9V244.6M284.5 232.5V253.5M285.5 205.0V224.4M286.5 198.4V205.0M287.5 201.5V220.4M288.5 192.8V202.3M290.5 204.5V213.1M291.5 205.0V214.9M294.5 204.7V230.2M296.5 208.0V251.9M296.5 197.5V208.0M298.5 206.9V248.7M298.5 197.2V206.9M301.5 216.7V288.5M302.5 220.3V247.5M302.5 204.6V220.3M304.5 234.2V249.5M305.5 228.7V288.5M305.5 209.6V228.7M306.5 239.5V248.0M307.5 226.0V267.4M308.5 212.0V218.6M310.5 234.7V250.3M311.5 244.2V317.5M313.5 252.2V326.1M314.5 265.4V297.5M314.5 248.5V265.4M315.5 291.7V314.8M316.5 314.8V459.0M317.5 303.3V332.8M318.5 312.2V369.0M324.5 309.4V364.1M324.5 287.0V309.4M325.5 303.5V348.3M326.5 308.3V354.7M326.5 354.7V407.2M332.5 317.3V349.4M332.5 301.5V317.3M335.5 347.5V375.6M339.5 342.0V415.8M340.5 338.0V394.8M341.5 327.2V351.4M342.5 337.2V413.1M344.5 337.1V368.7M345.5 335.8V348.0M345.5 348.0V421.2M348.5 334.4V432.0M349.5 334.0V379.9M349.5 322.2V334.0M350.5 357.1V417.4M354.5 346.1V430.7M355.5 373.7V408.1M357.5 338.4V358.5M359.5 328.2V343.0M360.5 332.8V350.4M363.5 341.7V367.4M364.5 340.8V399.7M367.5 311.0V364.4M368.5 310.3V321.5M369.5 320.7V375.6M369.5 293.1V320.7M370.5 287.7V302.6M374.5 293.7V337.4M375.5 294.0V336.1M375.5 336.1V395.8M379.5 330.9V390.3M381.5 303.3V331.1M383.5 285.5V385.9M384.5 385.9V470.0M386.5 218.2V262.7M387.5 201.7V285.2M387.5 193.8V201.7M390.5 221.4V261.3M390.5 261.3V330.4M393.5 222.1V293.8M394.5 242.4V268.0M395.5 394.6V394.6M397.5 244.5V294.3M399.5 243.3V361.3M399.5 219.8V243.3M409.5 248.9V279.3M409.5 279.3V395.6M410.5 252.4V417.1M411.5 249.8V304.0M412.5 256.7V284.3M414.5 269.1V292.7M415.5 251.4V274.8M417.5 271.5V298.7M419.5 363.9V463.0M420.5 257.0V363.9M420.5 245.6V257.0M421.5 288.3V328.1M422.5 262.2V320.3M422.5 320.3V408.2M426.5 311.2V379.5M427.5 265.5V288.6M428.5 247.3V275.0M431.5 254.3V275.1M433.5 257.1V406.3M433.5 406.3V415.3M434.5 256.2V322.1M434.5 322.1V388.5M435.5 267.0V417.1M436.5 254.6V370.7M436.5 240.3V254.6M437.5 252.1V415.0M438.5 244.1V363.0M440.5 242.2V307.2M443.5 246.2V262.1M444.5 243.7V315.7M448.5 228.9V240.2M450.5 247.2V410.7M451.5 266.1V298.3M453.5 278.9V457.0M455.5 228.4V268.8M456.5 374.5V374.5M457.5 231.4V258.8M457.5 205.7V231.4M458.5 225.8V244.0M459.5 230.3V259.3M460.5 231.3V262.8M461.5 241.9V352.4M461.5 352.4V390.2M462.5 237.3V280.2M463.5 257.8V292.6M464.5 255.1V372.2M465.5 231.5V244.6M467.5 231.5V294.7M470.5 230.0V370.2M471.5 255.6V337.6M472.5 232.5V272.3M473.5 224.4V252.2M474.5 241.5V261.3M474.5 261.3V372.4M477.5 236.0V281.7M479.5 241.1V271.7M480.5 271.1V362.7M481.5 252.1V305.9M482.5 256.3V388.0M483.5 258.7V293.2M485.5 276.4V373.9M487.5 263.5V306.5M488.5 297.0V312.5M489.5 297.1V320.9M491.5 320.2V349.8M492.5 307.0V351.5M494.5 299.1V331.1M495.5 317.0V365.9M495.5 303.7V317.0M496.5 320.3V339.2M497.5 316.4V327.5M500.5 305.0V333.6M501.5 313.2V428.2M502.5 310.8V341.2M504.5 322.7V372.8M504.5 304.4V322.7M505.5 319.5V405.2M509.5 337.9V385.7M511.5 317.6V339.2M516.5 317.7V354.7M517.5 317.3V379.6M517.5 306.7V317.3M520.5 345.3V435.5M520.5 317.7V345.3M521.5 318.4V332.8M523.5 378.3V470.0M524.5 321.0V378.3M524.5 329.3V376.3M525.5 329.3V344.8M527.5 325.5V394.5M531.5 335.7V349.0M534.5 313.9V345.2M534.5 345.2V369.5M535.5 319.2V336.8M535.5 336.8V383.1M539.5 321.7V401.0M540.5 326.4V342.4M542.5 325.5V340.4M542.5 314.6V325.5M543.5 329.2V368.4M544.5 331.4V381.9M544.5 381.9V399.5M545.5 322.7V343.6M547.5 359.5V386.1M548.5 337.5V350.1M550.5 331.2V341.6M551.5 325.3V343.9M553.5 339.1V352.8M553.5 325.2V339.1M554.5 338.6V358.2M555.5 342.9V381.6M555.5 381.6V401.4M557.5 355.3V472.0M589.5 316.7V317.8M591.5 314.5V465.0M598.5 269.1V271.3M599.5 268.0V271.0M620.5 259.5V261.2M626.5 284.7V449.0M644.5 231.1V232.9M652.5 229.5V232.6M660.5 248.4V455.0M687.5 261.8V263.6M693.5 264.5V267.7M694.5 285.6V455.0M699.5 239.9V242.9M708.5 260.4V263.9M713.5 241.0V243.2M714.5 243.0V244.0M716.5 240.8V242.5M720.5 239.8V241.3M726.5 259.9V261.3M728.5 265.5V268.7M729.5 265.5V450.0M756.5 241.9V244.3M757.5 252.1V253.7M761.5 275.3V277.9M764.5 274.5V455.0M765.5 256.3V297.7M766.5 239.7V264.2M768.5 231.9V269.3M768.5 269.3V331.8M769.5 252.8V341.1M770.5 249.6V341.1M771.5 243.6V264.9M772.5 244.3V265.6M772.5 265.6V379.6M776.5 245.4V259.4M777.5 256.0V313.2M780.5 269.2V347.1M780.5 245.2V269.2M781.5 263.9V322.1M783.5 267.9V358.6M784.5 244.1V364.1M785.5 253.3V364.2M788.5 254.6V268.4M789.5 243.8V300.4M789.5 300.4V340.2M790.5 251.5V364.2M792.5 249.4V262.6M795.5 286.8V339.1M798.5 310.9V462.0M799.5 274.5V291.4M802.5 290.5V300.4M803.5 287.6V339.5M804.5 290.5V312.6M805.5 284.8V292.9M805.5 292.9V338.5M807.5 320.5V342.6M810.5 282.8V292.7M811.5 288.3V295.3M812.5 289.9V330.8M814.5 295.1V312.2M817.5 300.5V318.1M817.5 318.1V350.0M819.5 288.2V341.1M820.5 361.7V391.3M821.5 319.4V348.4M822.5 300.2V314.8M824.5 312.0V356.0M828.5 323.2V367.2M829.5 308.0V365.4M832.5 293.1V311.0M832.5 303.1V355.1M836.5 262.3V286.8M837.5 282.9V323.6M838.5 249.7V277.5M839.5 269.3V285.6M840.5 271.4V294.8M841.5 255.7V300.0M843.5 255.1V265.4M844.5 265.4V346.6M845.5 254.2V268.9M849.5 298.1V399.8M850.5 278.0V298.1M852.5 270.2V281.2M852.5 256.0V270.2M853.5 259.1V292.1M853.5 254.8V259.1M855.5 261.4V279.2M857.5 268.6V295.6M859.5 275.7V346.6M860.5 294.7V310.1M862.5 258.9V275.5M866.5 284.0V371.6M867.5 371.6V462.0M211.5 410.9V416.4M213.5 410.9V416.4M210.5 372.6V375.4M214.5 379.5V382.1M246.5 345.5V357.1M248.5 345.5V357.1M245.5 343.8V347.3M249.5 284.6V289.9M280.5 343.9V354.7M282.5 343.9V354.7M279.5 326.5V330.2M283.5 241.9V248.2M315.5 314.8V329.2M317.5 332.8V345.4M314.5 297.5V302.4M318.5 312.2V316.6M383.5 385.9V394.3M385.5 385.9V394.3M382.5 340.1V344.0M386.5 262.7V268.9M418.5 363.9V373.8M420.5 363.9V373.8M417.5 298.7V303.7M421.5 328.1V332.2M452.5 278.9V296.8M454.5 278.9V296.8M451.5 298.3V303.1M455.5 268.8V274.5M522.5 378.3V387.4M524.5 378.3V387.4M521.5 366.1V369.2M525.5 344.8V348.6M556.5 355.3V367.0M558.5 355.3V367.0M555.5 381.6V384.3M559.5 307.7V312.6M590.5 314.5V329.6M592.5 314.5V329.6M589.5 316.7V321.1M593.5 275.2V280.9M625.5 284.7V301.2M627.5 284.7V301.2M624.5 286.1V291.0M628.5 232.6V239.1M659.5 248.4V269.1M661.5 262.0V281.3M658.5 249.9V256.0M662.5 259.5V265.3M693.5 285.6V302.5M695.5 285.6V302.5M692.5 279.3V284.6M696.5 252.5V258.6M728.5 265.5V283.9M730.5 270.1V288.1M727.5 264.9V270.4M731.5 267.8V273.2M763.5 274.5V292.6M765.5 297.7V313.5M762.5 276.3V281.7M766.5 264.2V270.0M797.5 310.9V326.0M799.5 310.9V326.0M796.5 296.1V301.1M800.5 322.2V326.4M866.5 371.6V380.6M868.5 436.1V438.7M865.5 329.0V333.0M869.5 435.7V436.5" stroke="#008000" stroke-width="1" stroke-opacity=".5"/>
<path d="M112.5 282.6V462.0M115.5 386.0V462.0M124.5 384.0V462.0M150.5 398.5V460.0M156.5 393.0V460.0M111.5 432.0V462.0M162.5 442.5V460.0M214.5 189.2V336.0M248.5 125.0V300.0M387.5 125.0V215.0M421.5 134.6V260.0M455.5 125.0V240.0M628.5 91.7V223.0M662.5 118.0V250.0M765.5 101.0V262.0M834.5 173.4V268.0" stroke="#008000" stroke-width="1" stroke-opacity="0.6"/>
<path d="M115.5 357.0V462.0M118.5 318.5V462.0M153.5 380.6V460.0M180.5 241.2V380.0M283.5 125.0V210.0M352.5 217.0V330.0M524.5 240.0V320.0M800.5 159.2V290.0" stroke="#008000" stroke-width="1" stroke-opacity="1.0"/>
<path d="M123.5 258.2V462.0M125.5 258.2V462.0M126.5 295.0V462.0M114.5 409.0V462.0M121.5 445.6V462.0M135.5 452.7V462.0M138.5 355.0V462.0" stroke="#008000" stroke-width="1" stroke-opacity="0.8"/>
<path d="M122.5 391.0V462.0M133.5 443.0V462.0M145.5 437.7V462.0M146.5 449.0V462.0M173.5 447.0V458.0M160.5 385.0V460.0" stroke="#008000" stroke-width="1" stroke-opacity="0.7"/>
<path d="M167.5 419.0V460.0M317.5 200.6V300.0M490.5 144.0V300.0" stroke="#008000" stroke-width="1" stroke-opacity="0.5"/>
<path d="M559.5 161.6V300.0M593.5 129.7V300.0M696.5 117.5V245.0M731.5 123.8V255.0M883.5 413.5V425.0M898.5 411.2V425.0" stroke="#008000" stroke-width="1" stroke-opacity="0.9"/>
<line x1="167.5" y1="19.5" x2="167.5" y2="537.5" class="g"/>
<line x1="282.5" y1="19.5" x2="282.5" y2="537.5" class="g"/>
<line x1="397.5" y1="19.5" x2="397.5" y2="537.5" class="g"/>
<line x1="511.5" y1="19.5" x2="511.5" y2="537.5" class="g"/>
<line x1="626.5" y1="19.5" x2="626.5" y2="537.5" class="g"/>
<line x1="741.5" y1="19.5" x2="741.5" y2="537.5" class="g"/>
<line x1="856.5" y1="19.5" x2="856.5" y2="537.5" class="g"/>
<line x1="573" y1="83.5" x2="971.0" y2="83.5" class="g"/>
<line x1="53.3" y1="148.5" x2="971.0" y2="148.5" class="g"/>
<line x1="53.3" y1="213.5" x2="971.0" y2="213.5" class="g"/>
<line x1="53.3" y1="278.5" x2="971.0" y2="278.5" class="g"/>
<line x1="53.3" y1="342.5" x2="971.0" y2="342.5" class="g"/>
<line x1="53.3" y1="407.5" x2="971.0" y2="407.5" class="g"/>
<line x1="53.3" y1="472.5" x2="971.0" y2="472.5" class="g"/>
<rect x="58" y="28" width="515" height="96" fill="#fff"/>
<line x1="57" y1="77.5" x2="64" y2="77.5" class="g"/>
<path d="M52.5 19V538" stroke="#b5b5b5" stroke-width="1"/>
<path d="M53.5 19V538" stroke="#7a7a7a" stroke-width="1"/>
<path d="M970.5 19V538M971.5 19V538" stroke="#8a8a8a" stroke-width="1"/>
<path d="M52 19.5H972M52 537.5H972" stroke="#000" stroke-width="1"/>
<path d="M167.5 537.5v-4M167.5 19.5v4M282.5 537.5v-4M282.5 19.5v4M397.5 537.5v-4M397.5 19.5v4M511.5 537.5v-4M511.5 19.5v4M626.5 537.5v-4M626.5 19.5v4M741.5 537.5v-4M741.5 19.5v4M856.5 537.5v-4M856.5 19.5v4M53.3 77.5h4M53.3 148.5h4M53.3 213.5h4M53.3 278.5h4M53.3 342.5h4M53.3 407.5h4M53.3 472.5h4M971.0 105.5h-4M971.0 191.5h-4M971.0 277.5h-4M971.0 364.5h-4M971.0 450.5h-4" stroke="#000" stroke-width="1" fill="none"/><path d="M64.5 537.5v-2M64.5 19.5v2M75.5 537.5v-2M75.5 19.5v2M87.5 537.5v-2M87.5 19.5v2M98.5 537.5v-2M98.5 19.5v2M110.5 537.5v-2M110.5 19.5v2M121.5 537.5v-2M121.5 19.5v2M133.5 537.5v-2M133.5 19.5v2M144.5 537.5v-2M144.5 19.5v2M156.5 537.5v-2M156.5 19.5v2M179.5 537.5v-2M179.5 19.5v2M190.5 537.5v-2M190.5 19.5v2M202.5 537.5v-2M202.5 19.5v2M213.5 537.5v-2M213.5 19.5v2M225.5 537.5v-2M225.5 19.5v2M236.5 537.5v-2M236.5 19.5v2M247.5 537.5v-2M247.5 19.5v2M259.5 537.5v-2M259.5 19.5v2M270.5 537.5v-2M270.5 19.5v2M293.5 537.5v-2M293.5 19.5v2M305.5 537.5v-2M305.5 19.5v2M316.5 537.5v-2M316.5 19.5v2M328.5 537.5v-2M328.5 19.5v2M339.5 537.5v-2M339.5 19.5v2M351.5 537.5v-2M351.5 19.5v2M362.5 537.5v-2M362.5 19.5v2M374.5 537.5v-2M374.5 19.5v2M385.5 537.5v-2M385.5 19.5v2M408.5 537.5v-2M408.5 19.5v2M420.5 537.5v-2M420.5 19.5v2M431.5 537.5v-2M431.5 19.5v2M443.5 537.5v-2M443.5 19.5v2M454.5 537.5v-2M454.5 19.5v2M466.5 537.5v-2M466.5 19.5v2M477.5 537.5v-2M477.5 19.5v2M489.5 537.5v-2M489.5 19.5v2M500.5 537.5v-2M500.5 19.5v2M523.5 537.5v-2M523.5 19.5v2M535.5 537.5v-2M535.5 19.5v2M546.5 537.5v-2M546.5 19.5v2M558.5 537.5v-2M558.5 19.5v2M569.5 537.5v-2M569.5 19.5v2M580.5 537.5v-2M580.5 19.5v2M592.5 537.5v-2M592.5 19.5v2M603.5 537.5v-2M603.5 19.5v2M615.5 537.5v-2M615.5 19.5v2M638.5 537.5v-2M638.5 19.5v2M649.5 537.5v-2M649.5 19.5v2M661.5 537.5v-2M661.5 19.5v2M672.5 537.5v-2M672.5 19.5v2M684.5 537.5v-2M684.5 19.5v2M695.5 537.5v-2M695.5 19.5v2M707.5 537.5v-2M707.5 19.5v2M718.5 537.5v-2M718.5 19.5v2M730.5 537.5v-2M730.5 19.5v2M753.5 537.5v-2M753.5 19.5v2M764.5 537.5v-2M764.5 19.5v2M776.5 537.5v-2M776.5 19.5v2M787.5 537.5v-2M787.5 19.5v2M799.5 537.5v-2M799.5 19.5v2M810.5 537.5v-2M810.5 19.5v2M822.5 537.5v-2M822.5 19.5v2M833.5 537.5v-2M833.5 19.5v2M845.5 537.5v-2M845.5 19.5v2M868.5 537.5v-2M868.5 19.5v2M879.5 537.5v-2M879.5 19.5v2M891.5 537.5v-2M891.5 19.5v2M902.5 537.5v-2M902.5 19.5v2M913.5 537.5v-2M913.5 19.5v2M925.5 537.5v-2M925.5 19.5v2M936.5 537.5v-2M936.5 19.5v2M948.5 537.5v-2M948.5 19.5v2M959.5 537.5v-2M959.5 19.5v2M53.3 25.5h2M53.3 31.5h2M53.3 38.5h2M53.3 44.5h2M53.3 51.5h2M53.3 57.5h2M53.3 64.5h2M53.3 70.5h2M53.3 83.5h2M53.3 90.5h2M53.3 96.5h2M53.3 103.5h2M53.3 109.5h2M53.3 116.5h2M53.3 122.5h2M53.3 129.5h2M53.3 135.5h2M53.3 142.5h2M53.3 154.5h2M53.3 161.5h2M53.3 167.5h2M53.3 174.5h2M53.3 180.5h2M53.3 187.5h2M53.3 193.5h2M53.3 200.5h2M53.3 206.5h2M53.3 219.5h2M53.3 226.5h2M53.3 232.5h2M53.3 239.5h2M53.3 245.5h2M53.3 252.5h2M53.3 258.5h2M53.3 265.5h2M53.3 271.5h2M53.3 284.5h2M53.3 290.5h2M53.3 297.5h2M53.3 303.5h2M53.3 310.5h2M53.3 316.5h2M53.3 323.5h2M53.3 329.5h2M53.3 336.5h2M53.3 349.5h2M53.3 355.5h2M53.3 362.5h2M53.3 368.5h2M53.3 375.5h2M53.3 381.5h2M53.3 388.5h2M53.3 394.5h2M53.3 401.5h2M53.3 413.5h2M53.3 420.5h2M53.3 426.5h2M53.3 433.5h2M53.3 439.5h2M53.3 446.5h2M53.3 452.5h2M53.3 459.5h2M53.3 465.5h2M53.3 478.5h2M53.3 485.5h2M53.3 491.5h2M53.3 498.5h2M53.3 504.5h2M53.3 511.5h2M53.3 517.5h2M53.3 524.5h2M53.3 530.5h2M971.0 27.5h-2M971.0 36.5h-2M971.0 44.5h-2M971.0 53.5h-2M971.0 62.5h-2M971.0 70.5h-2M971.0 79.5h-2M971.0 88.5h-2M971.0 96.5h-2M971.0 113.5h-2M971.0 122.5h-2M971.0 131.5h-2M971.0 139.5h-2M971.0 148.5h-2M971.0 157.5h-2M971.0 165.5h-2M971.0 174.5h-2M971.0 183.5h-2M971.0 200.5h-2M971.0 208.5h-2M971.0 217.5h-2M971.0 226.5h-2M971.0 234.5h-2M971.0 243.5h-2M971.0 252.5h-2M971.0 260.5h-2M971.0 269.5h-2M971.0 286.5h-2M971.0 295.5h-2M971.0 303.5h-2M971.0 312.5h-2M971.0 321.5h-2M971.0 329.5h-2M971.0 338.5h-2M971.0 347.5h-2M971.0 355.5h-2M971.0 372.5h-2M971.0 381.5h-2M971.0 390.5h-2M971.0 398.5h-2M971.0 407.5h-2M971.0 416.5h-2M971.0 424.5h-2M971.0 433.5h-2M971.0 442.5h-2M971.0 459.5h-2M971.0 467.5h-2M971.0 476.5h-2M971.0 485.5h-2M971.0 493.5h-2M971.0 502.5h-2M971.0 511.5h-2M971.0 519.5h-2M971.0 528.5h-2" stroke="#000" stroke-opacity=".55" stroke-width="1" fill="none"/>
<text x="53.3" y="548" text-anchor="middle" class="t">460</text>
<text x="167.5" y="548" text-anchor="middle" class="t">480</text>
<text x="282.5" y="548" text-anchor="middle" class="t">500</text>
<text x="397.5" y="548" text-anchor="middle" class="t">520</text>
<text x="511.5" y="548" text-anchor="middle" class="t">540</text>
<text x="626.5" y="548" text-anchor="middle" class="t">560</text>
<text x="741.5" y="548" text-anchor="middle" class="t">580</text>
<text x="856.5" y="548" text-anchor="middle" class="t">600</text>
<text x="971.0" y="548" text-anchor="middle" class="t">620</text>
<text x="48" y="21.9" text-anchor="end" class="t">20</text>
<text x="48" y="86.7" text-anchor="end" class="t">10</text>
<text x="48" y="151.4" text-anchor="end" class="t">0</text>
<text x="48" y="216.2" text-anchor="end" class="t">−10</text>
<text x="48" y="280.9" text-anchor="end" class="t">−20</text>
<text x="48" y="345.6" text-anchor="end" class="t">−30</text>
<text x="48" y="410.4" text-anchor="end" class="t">−40</text>
<text x="48" y="475.1" text-anchor="end" class="t">−50</text>
<text x="48" y="539.9" text-anchor="end" class="t">−60</text>
<text x="975.5" y="21.9" class="t">20</text>
<text x="975.5" y="108.2" class="t">10</text>
<text x="975.5" y="194.6" class="t">0</text>
<text x="975.5" y="280.9" class="t">−10</text>
<text x="975.5" y="367.2" class="t">−20</text>
<text x="975.5" y="453.6" class="t">−30</text>
<text x="975.5" y="539.9" class="t">−40</text>
<text x="511.5" y="14.2" text-anchor="middle" class="lb" style="font-size:12.4px" textLength="112" lengthAdjust="spacingAndGlyphs">Level Comparison</text>
<text x="511.4" y="562.8" text-anchor="middle" class="lb" textLength="88" lengthAdjust="spacingAndGlyphs">Frequency (MHz)</text>
<g transform="translate(16.5,317.8) rotate(-90)" class="lb"><text x="0" y="0" textLength="50.8" lengthAdjust="spacingAndGlyphs">Level (dB/</text><text x="53" y="0.3" style="font-size:11.8px">√</text><text x="62.2" y="0" textLength="11.3" lengthAdjust="spacingAndGlyphs">Hz</text><text x="75.2" y="0">)</text><path d="M60.4 -9.5H75.6" stroke="#000" stroke-width="0.9"/></g>
<g transform="translate(1011.8,331.5) rotate(-90)" class="lb"><text x="0" y="0" textLength="79.3" lengthAdjust="spacingAndGlyphs">Difference (dB/</text><text x="80.6" y="0.3" style="font-size:11.8px">√</text><text x="90" y="0" textLength="11" lengthAdjust="spacingAndGlyphs">Hz</text><text x="101.9" y="0">)</text><path d="M88.1 -9.4H103.5" stroke="#000" stroke-width="0.9"/></g>
<text x="64.5" y="53.5" class="an" fill="#3f48cc" textLength="113" lengthAdjust="spacingAndGlyphs">Blue- 91XG</text>
<text x="64.5" y="84.6" class="an" fill="#22b14c" textLength="203" lengthAdjust="spacingAndGlyphs">Green- DAT Boss LR</text>
<text x="64.5" y="114.6" class="an" fill="#ed1c24"><tspan x="64.5" textLength="233.3" lengthAdjust="spacingAndGlyphs">Milwaukee Aim, North</tspan> <tspan x="305.2" textLength="243.5" lengthAdjust="spacingAndGlyphs">Wind and clearing skies</tspan></text>
</svg>
</body></html>
